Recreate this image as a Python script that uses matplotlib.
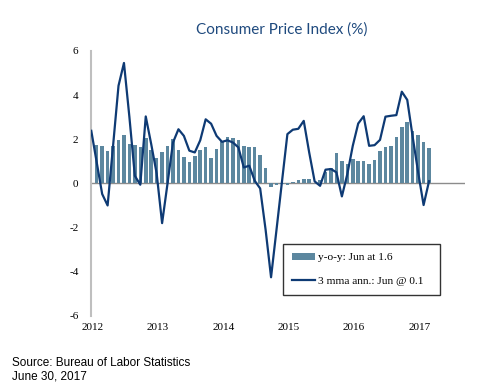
import matplotlib
matplotlib.use("Agg")
import matplotlib.pyplot as plt
import numpy as np

# y-o-y CPI, May 2012 .. Jun 2017
yoy = [1.74, 1.67, 1.45, 1.7, 1.98, 2.18, 1.8, 1.75,
       1.65, 2.05, 1.5, 1.15, 1.4, 1.7, 2.0, 1.5, 1.18, 0.95, 1.25, 1.5,
       1.63, 1.15, 1.55, 1.9, 2.12, 2.05, 1.97, 1.7, 1.65, 1.65, 1.3, 0.68,
       -0.15, -0.09, -0.03, -0.06, 0.06, 0.15, 0.18, 0.2, 0.0, 0.15, 0.5, 0.68,
       1.38, 1.0, 0.88, 1.12, 1.02, 1.02, 0.87, 1.07, 1.48, 1.63, 1.67, 2.08,
       2.53, 2.8, 2.35, 2.2, 1.88, 1.62]

# 3 month moving average annualized, Apr 2012 .. Jun 2017
mma = [2.38, 0.95, -0.48, -1.0, 1.7, 4.42, 5.45, 3.0, 0.34,
       -0.06, 3.03, 1.78, 0.45, -1.8, 0.0, 1.85, 2.45, 2.15, 1.48, 1.4, 1.95,
       2.9, 2.7, 2.15, 1.88, 1.95, 1.85, 1.63, 0.72, 0.8, 0.12, -0.23, -2.1,
       -4.25, -2.1, 0.07, 2.23, 2.43, 2.47, 2.83, 1.4, 0.09, -0.11, 0.62, 0.65,
       0.5, -0.59, 0.42, 1.7, 2.71, 3.04, 1.7, 1.73, 1.97, 3.02, 3.06, 3.09,
       4.15, 3.78, 2.1, 0.5, -0.98, 0.1]

years = ["2012", "2013", "2014", "2015", "2016", "2017"]
yticks = [-6, -4, -2, 0, 2, 4, 6]

bar_color = "#5C879F"
line_color = "#0E3A74"
serif = "Liberation Serif"

x_bar = np.arange(len(yoy))
x_line = np.arange(len(mma)) - 1

fig = plt.figure(figsize=(5, 3.91), dpi=100)
ax = fig.add_axes([0.182, 0.192, 0.748, 0.678])

bars = ax.bar(x_bar, yoy, width=0.65, color=bar_color, label="y-o-y: Jun at 1.6", zorder=2)
line, = ax.plot(x_line, mma, color=line_color, lw=1.6, label="3 mma ann.: Jun @ 0.1", zorder=3)
ax.axhline(0, color="#8C8C8C", lw=1.0, zorder=1)

ax.set_xlim(-1.05, 67.6)
ax.set_ylim(-6, 6)
ax.set_yticks(yticks)
ax.set_yticklabels([str(v) for v in yticks], fontfamily=serif, fontsize=8)
ax.set_xticks([12 * k - 0.75 for k in range(len(years))])
ax.set_xticklabels(years, fontfamily=serif, fontsize=8)
ax.tick_params(axis="both", length=0)
ax.tick_params(axis="y", pad=9)
ax.tick_params(axis="x", pad=5)

for s in ["top", "right", "bottom"]:
    ax.spines[s].set_visible(False)
ax.spines["left"].set_color("#BFBFBF")
ax.spines["left"].set_linewidth(1.5)

leg_h = 50 / 391
leg = ax.legend(handles=[bars, line], loc="upper left",
                bbox_to_anchor=(0.566, 0.376 - leg_h, 0.314, leg_h),
                bbox_transform=fig.transFigure, mode="expand",
                frameon=True, fancybox=False,
                prop={"family": serif, "size": 8.2}, handlelength=2.1,
                handletextpad=0.2, labelspacing=1.2, borderpad=0.75,
                borderaxespad=0)
leg.get_frame().set_edgecolor("black")
leg.get_frame().set_linewidth(1.0)

fig.text(0.563, 0.915, "Consumer Price Index (%)", ha="center", va="baseline",
         fontfamily="Lato", fontsize=11, color="#1F4A7E")
fig.text(0.024, 0.0647, "Source: Bureau of Labor Statistics", ha="left",
         va="baseline", fontfamily="Liberation Sans", fontsize=8.5)
fig.text(0.024, 0.030, "June 30, 2017", ha="left", va="baseline",
         fontfamily="Liberation Sans", fontsize=8.5)

fig.savefig("out.png", dpi=100)
